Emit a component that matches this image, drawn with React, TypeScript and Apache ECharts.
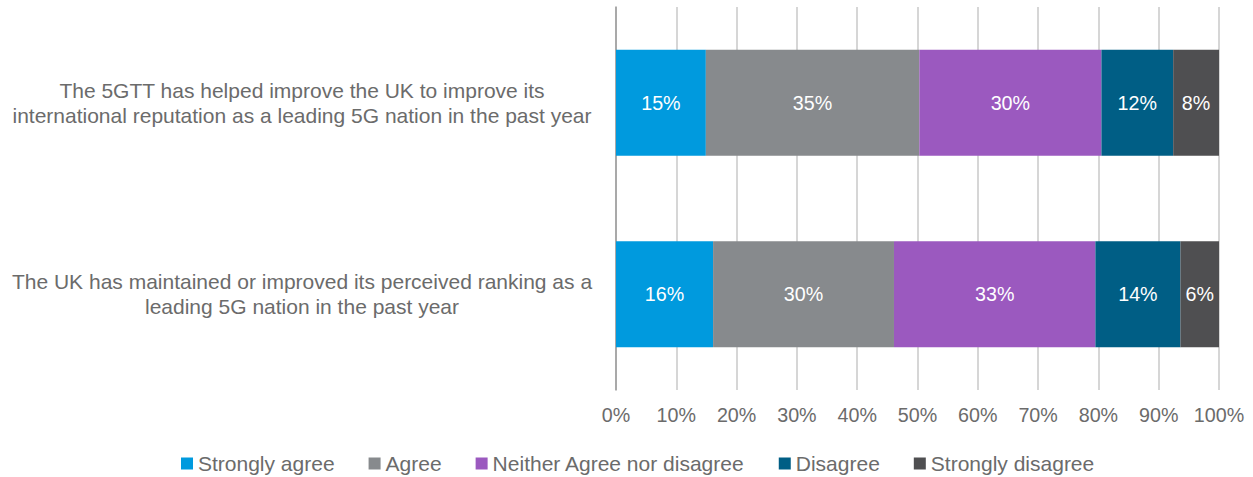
import React, { useEffect, useRef } from "react";
import * as echarts from "echarts";

const categories = [
  "The 5GTT has helped improve the UK to improve its\ninternational reputation as a leading 5G nation in the past year",
  "The UK has maintained or improved its perceived ranking as a\nleading 5G nation in the past year",
];
const seriesNames = [
  "Strongly agree",
  "Agree",
  "Neither Agree nor disagree",
  "Disagree",
  "Strongly disagree",
];
const stronglyAgree = [14.9, 16.1];
const agree = [35.4, 30.0];
const neither = [30.2, 33.4];
const disagree = [11.9, 14.1];
const stronglyDisagree = [7.6, 6.4];
const colors = ["#009ADE", "#878A8D", "#9B59BF", "#005E85", "#4F4F51"];

export default function App() {
  const ref = useRef<HTMLDivElement>(null);
  useEffect(() => {
    if (!ref.current) return;
    const chart = echarts.init(ref.current, null, { renderer: "svg" });
    const data = [stronglyAgree, agree, neither, disagree, stronglyDisagree];
    const font = "'Liberation Sans', Arial, sans-serif";
    chart.setOption({
      animation: false,
      textStyle: { fontFamily: font },
      grid: { left: 616, right: 34, top: 7, bottom: 87, containLabel: false },
      legend: {
        top: 453,
        left: 181,
        padding: 0,
        itemWidth: 12,
        itemHeight: 12,
        itemGap: 34,
        icon: "rect",
        textStyle: { fontSize: 21, color: "#6B6B6B", fontFamily: font },
        data: seriesNames,
      },
      xAxis: {
        type: "value",
        min: 0,
        max: 100,
        interval: 10,
        axisLabel: {
          formatter: "{value}%",
          fontSize: 19.7,
          color: "#6B6B6B",
          margin: 15,
        },
        axisLine: { show: false },
        axisTick: { show: false },
        splitLine: { show: true, lineStyle: { color: "#C8C8C8", width: 1.5 } },
      },
      yAxis: {
        type: "category",
        inverse: true,
        data: categories,
        axisLine: { show: true, lineStyle: { color: "#9A9A9A", width: 1.5 } },
        axisTick: { show: false },
        axisLabel: {
          fontSize: 21,
          color: "#6B6B6B",
          align: "center",
          margin: 314,
          lineHeight: 25,
        },
      },
      series: seriesNames.map((name, i) => ({
        name,
        type: "bar",
        stack: "total",
        barWidth: 106,
        data: data[i],
        itemStyle: { color: colors[i] },
        label: {
          show: true,
          position: "inside",
          color: "#FFFFFF",
          fontSize: 19.7,
          formatter: (p: any) => Math.round(p.value) + "%",
        },
      })),
    });
    return () => chart.dispose();
  }, []);
  return <div ref={ref} style={{ width: 1253, height: 477, position: "absolute", left: 0, top: 0 }} />;
}
